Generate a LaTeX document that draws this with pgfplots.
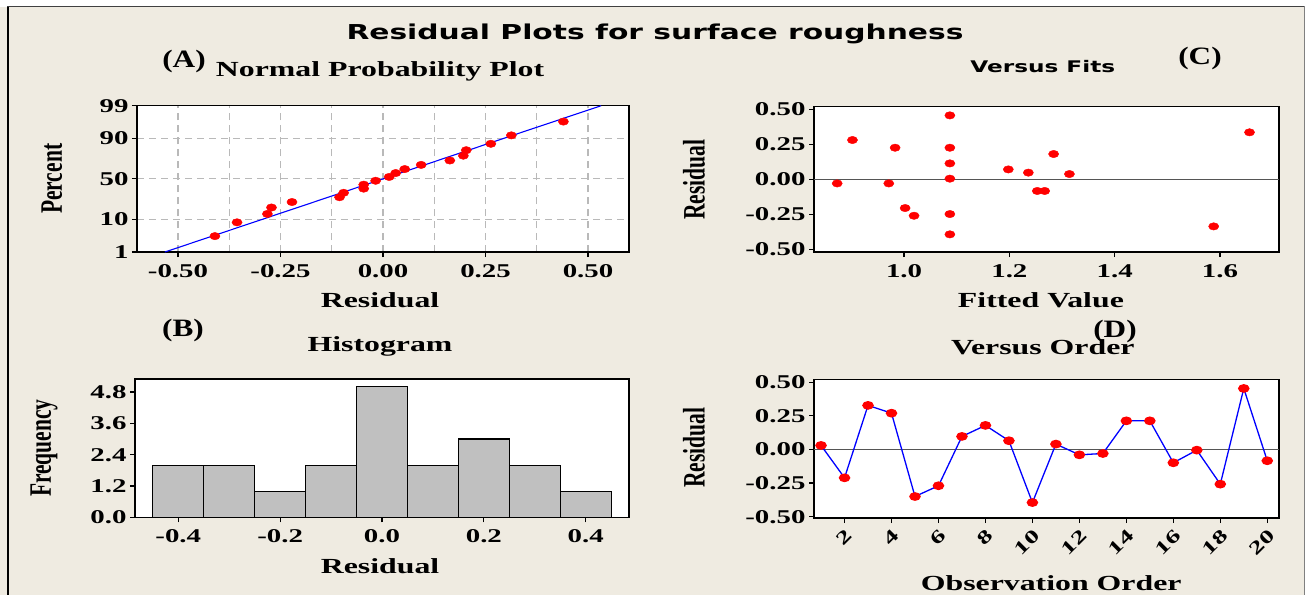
\documentclass[border=0pt]{standalone}
\usepackage{pgfplots}
\pgfplotsset{compat=1.18}
\usepackage{fontspec}
\usepackage{graphicx}
\setmainfont{Liberation Serif}[FakeStretch=1.48]
\newfontfamily\plainserif{Liberation Serif}
\newfontfamily\titlesans{DejaVu Sans}[FakeStretch=1.45]

\definecolor{panelbg}{RGB}{239,235,225}
\definecolor{bargray}{RGB}{192,192,192}
\definecolor{gridgray}{RGB}{185,185,185}
\definecolor{zeroline}{RGB}{85,85,85}

\newcommand\tickfont{\bfseries\fontsize{19.5}{20}\selectfont}
\newcommand\labfont{\bfseries\fontsize{21.5}{22}\selectfont}
\newcommand\ylab[1]{\plainserif\bfseries\fontsize{21.5}{22}\selectfont\scalebox{1}[1.45]{#1}}
\newcommand\tag[1]{\plainserif\bfseries\fontsize{25}{26}\selectfont\scalebox{1.25}[1]{#1}}

\pgfplotsset{
  resid/.style={
    scale only axis,
    anchor=south west,
    axis background/.style={fill=white},
    axis line style={line width=1.3pt},
    tick pos=left,
    tick align=outside,
    major tick length=5pt,
    minor tick length=0pt,
    every tick/.style={black, line width=1.2pt},
    tick label style={font=\tickfont},
    /pgf/number format/assume math mode=true,
    label style={font=\labfont},
    title style={font=\labfont, anchor=center},
    xlabel style={anchor=center},
    ylabel style={anchor=center},
    grid style={gridgray, line width=1.2pt, dash pattern=on 7pt off 5pt},
    minor grid style={gridgray, line width=1.2pt, dash pattern=on 7pt off 5pt},
  },
  dots/.style={only marks, mark=*, mark size=3.7pt,
    mark options={draw=red, fill=red, xscale=1.38}},
}

\begin{document}
\begin{tikzpicture}
\useasboundingbox (0,0) rectangle (1311pt,-595pt);
\fill[white] (0,0) rectangle (1311pt,-595pt);
\fill[panelbg] (0,-7pt) rectangle (1304pt,-595pt);
\draw[black, line width=2.2pt] (8pt,-6pt) -- (8pt,-595pt);
\draw[black!75, line width=1.5pt] (7pt,-6.5pt) -- (1304pt,-6.5pt);
\draw[gray, line width=1pt] (1304pt,-6pt) -- (1304pt,-595pt);

\node[font=\titlesans\bfseries\fontsize{20.5}{22}\selectfont] at (655pt,-34pt)
  {Residual Plots for surface roughness};

% (A) normal probability plot, y in normal scores
\begin{axis}[resid,
  at={(137pt,-252pt)}, width=492pt, height=146.3pt,
  xmin=-0.6, xmax=0.6, ymin=-2.326, ymax=2.326,
  xtick={-0.5,-0.25,0,0.25,0.5},
  xticklabels={-0.50,-0.25,0.00,0.25,0.50},
  xticklabel style={yshift=-4pt},
  minor xtick={-0.375,-0.125,0.125,0.375},
  ytick={-2.326,-1.2816,0,1.2816,2.326},
  yticklabels={1,10,50,90,99},
  xmajorgrids, xminorgrids, ymajorgrids,
  title={Normal Probability Plot},
  title style={at={(axis description cs:0.494,1.196)}},
  xlabel={Residual},
  xlabel style={at={(axis description cs:0.494,-0.328)}},
  ylabel={\ylab{Percent}},
  ylabel style={at={(axis description cs:-0.173,0.5)}},
]
\addplot[blue, line width=1.1pt] coordinates {(-0.532,-2.326) (0.532,2.326)};
\addplot[dots] coordinates {
  (-0.410,-1.821) (-0.356,-1.383) (-0.282,-1.115) (-0.272,-0.911)
  (-0.222,-0.737) (-0.106,-0.584) (-0.096,-0.444) (-0.047,-0.311)
  (-0.047,-0.185) (-0.018,-0.061) (0.015,0.061) (0.031,0.185)
  (0.053,0.311) (0.093,0.444) (0.163,0.584) (0.196,0.737)
  (0.203,0.911) (0.263,1.115) (0.313,1.383) (0.440,1.821)
};
\end{axis}

% (B) histogram
\begin{axis}[resid,
  at={(135pt,-517.3pt)}, width=494pt, height=138.3pt,
  xmin=-0.485, xmax=0.485, ymin=0, ymax=5.3,
  ybar, bar width=0.1,
  xtick={-0.4,-0.2,0,0.2,0.4},
  xticklabels={-0.4,-0.2,0.0,0.2,0.4},
  xticklabel style={yshift=-4pt},
  ytick={0,1.2,2.4,3.6,4.8},
  yticklabels={0.0,1.2,2.4,3.6,4.8},
  title={Histogram},
  title style={at={(axis description cs:0.496,1.195)}},
  xlabel={Residual},
  xlabel style={at={(axis description cs:0.496,-0.35)}},
  ylabel={\ylab{Frequency}},
  ylabel style={at={(axis description cs:-0.184,0.5)}},
]
\addplot[fill=bargray, draw=black, line width=1.2pt] coordinates {
  (-0.4,2) (-0.3,2) (-0.2,1) (-0.1,2) (0,5) (0.1,2) (0.2,3) (0.3,2) (0.4,1)
};
\end{axis}

% (C) versus fits
\begin{axis}[resid,
  at={(814pt,-252pt)}, width=465pt, height=145.3pt,
  xmin=0.829, xmax=1.712, ymin=-0.519, ymax=0.519,
  xtick={1.0,1.2,1.4,1.6},
  xticklabels={1.0,1.2,1.4,1.6},
  xticklabel style={yshift=-4pt},
  ytick={-0.5,-0.25,0,0.25,0.5},
  yticklabels={-0.50,-0.25,0.00,0.25,0.50},
  title={Versus Fits},
  title style={font=\titlesans\bfseries\fontsize{16}{17}\selectfont,
    at={(axis description cs:0.492,1.232)}},
  xlabel={Fitted Value},
  xlabel style={at={(axis description cs:0.488,-0.33)}},
  ylabel={\ylab{Residual}},
  ylabel style={at={(axis description cs:-0.258,0.496)}},
]
\addplot[zeroline, line width=1.3pt] coordinates {(0.829,0) (1.712,0)};
\addplot[dots] coordinates {
  (0.873,-0.029) (0.902,0.281) (0.971,-0.029) (0.983,0.226)
  (1.002,-0.205) (1.019,-0.260) (1.087,0.457) (1.087,0.226)
  (1.087,0.114) (1.087,0.005) (1.087,-0.248) (1.087,-0.393)
  (1.198,0.071) (1.236,0.048) (1.253,-0.083) (1.267,-0.083)
  (1.284,0.181) (1.314,0.038) (1.588,-0.336) (1.656,0.336)
};
\end{axis}

% (D) versus order
\begin{axis}[resid,
  at={(814pt,-518pt)}, width=465pt, height=138.7pt,
  xmin=0.7, xmax=20.5, ymin=-0.51, ymax=0.522,
  xtick={2,4,6,8,10,12,14,16,18,20},
  xticklabels={2,4,6,8,10,12,14,16,18,20},
  xticklabel style={rotate=45, anchor=north east,
    font=\bfseries\fontsize{18.5}{19}\selectfont},
  ytick={-0.5,-0.25,0,0.25,0.5},
  yticklabels={-0.50,-0.25,0.00,0.25,0.50},
  title={Versus Order},
  title style={at={(axis description cs:0.492,1.19)}},
  xlabel={Observation Order},
  xlabel style={at={(axis description cs:0.51,-0.469)}},
  ylabel={\ylab{Residual}},
  ylabel style={at={(axis description cs:-0.258,0.505)}},
]
\addplot[zeroline, line width=1.3pt] coordinates {(0.7,0) (20.5,0)};
\addplot[blue, line width=1.3pt, mark=*, mark size=3.7pt,
  mark options={draw=red, fill=red, xscale=1.38}] coordinates {
  (1,0.030) (2,-0.211) (3,0.328) (4,0.270) (5,-0.350)
  (6,-0.270) (7,0.097) (8,0.179) (9,0.065) (10,-0.395)
  (11,0.040) (12,-0.040) (13,-0.030) (14,0.213) (15,0.213)
  (16,-0.099) (17,-0.005) (18,-0.258) (19,0.454) (20,-0.084)
};
\end{axis}

\node at (184pt,-61pt) {\tag{(A)}};
\node at (183pt,-330pt) {\tag{(B)}};
\node at (1200pt,-58pt) {\tag{(C)}};
\node at (1115pt,-331pt) {\tag{(D)}};
\end{tikzpicture}
\end{document}
